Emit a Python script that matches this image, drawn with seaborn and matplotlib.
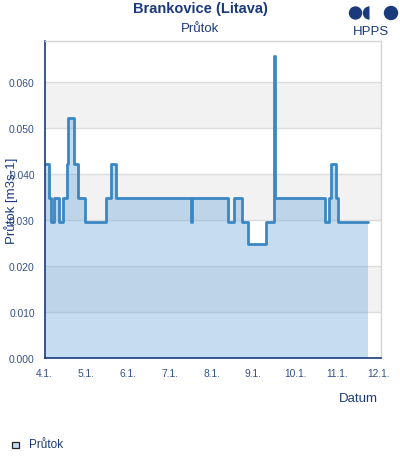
import matplotlib
matplotlib.use("Agg")
import matplotlib.pyplot as plt
import matplotlib.dates as mdates
from matplotlib.ticker import FuncFormatter
from matplotlib.patches import Circle, Wedge, Rectangle
import seaborn as sns
import pandas as pd

# ---- data (change points of discharge, step series) ----
times = [
    "2024-01-04 00:00", "2024-01-04 02:40", "2024-01-04 04:00", "2024-01-04 05:30",
    "2024-01-04 08:30", "2024-01-04 10:40", "2024-01-04 12:40", "2024-01-04 13:30",
    "2024-01-04 17:00", "2024-01-04 19:10", "2024-01-04 23:10", "2024-01-05 11:30",
    "2024-01-05 14:20", "2024-01-05 17:00", "2024-01-07 12:00", "2024-01-07 12:40",
    "2024-01-08 09:20", "2024-01-08 12:50", "2024-01-08 17:10", "2024-01-08 21:10",
    "2024-01-09 07:10", "2024-01-09 11:40", "2024-01-09 12:30", "2024-01-10 17:20",
    "2024-01-10 19:20", "2024-01-10 20:20", "2024-01-10 23:40", "2024-01-11 00:20",
    "2024-01-11 17:50",
]
flow = [
    0.0421, 0.0347, 0.0295, 0.0347,
    0.0295, 0.0347, 0.0421, 0.0520,
    0.0421, 0.0347, 0.0295, 0.0347,
    0.0421, 0.0347, 0.0295, 0.0347,
    0.0295, 0.0347, 0.0295, 0.0248,
    0.0295, 0.0655, 0.0347, 0.0295,
    0.0347, 0.0421, 0.0347, 0.0295,
    0.0295,
]
y_ticks = [0.000, 0.010, 0.020, 0.030, 0.040, 0.050, 0.060]
title = "Brankovice (Litava)"
subtitle = "Průtok"
y_label = "Průtok [m3s-1]"
x_label = "Datum"
legend_label = "Průtok"

df = pd.DataFrame({"time": pd.to_datetime(times), "flow": flow})

sns.set_theme(style="white")
plt.rcParams["font.family"] = ["Liberation Sans", "DejaVu Sans"]

NAVY = "#1b3a7c"
TICK = "#34508a"
LINE = "#3a87c4"

fig = plt.figure(figsize=(4.0, 4.6), dpi=100)
ax = fig.add_axes([44.5 / 400, 1 - 359 / 460, 336 / 400, 317 / 460])

# alternating horizontal bands
for lo in [0.010, 0.030, 0.050]:
    ax.axhspan(lo, lo + 0.010, color="#f2f2f2", zorder=0, lw=0)
for yt in y_ticks[1:]:
    ax.axhline(yt, color="#dcdcdc", lw=1.0, zorder=0.5)

ax.fill_between(df["time"], df["flow"], step="post", color=(107/255, 167/255, 219/255),
                alpha=0.385, lw=0, zorder=1)
sns.lineplot(data=df, x="time", y="flow", ax=ax, drawstyle="steps-post",
             color=LINE, lw=2.0, zorder=2, legend=False)

ax.set_xlim(pd.Timestamp("2024-01-04 00:00"), pd.Timestamp("2024-01-12 01:00"))
ax.set_ylim(0, 0.0688)
ax.set_yticks(y_ticks)
ax.yaxis.set_major_formatter(FuncFormatter(lambda v, p: f"{v:.3f}"))
ax.xaxis.set_major_locator(mdates.DayLocator())
ax.xaxis.set_major_formatter(FuncFormatter(
    lambda v, p: f"{mdates.num2date(v).day}.{mdates.num2date(v).month}."))
ax.tick_params(axis="both", length=0, labelsize=7.4, labelcolor=TICK)
ax.tick_params(axis="y", pad=7)
ax.tick_params(axis="x", pad=7)

for s in ["top", "right"]:
    ax.spines[s].set_color("#d4d4d4")
    ax.spines[s].set_linewidth(1.0)
for s in ["left", "bottom"]:
    ax.spines[s].set_color(NAVY)
    ax.spines[s].set_linewidth(1.2)

ax.set_xlabel("")
ax.set_ylabel(y_label, fontsize=9.5, color=NAVY)
ax.yaxis.set_label_coords(-0.078, 0.5)

fig.text(0.5, 1 - 9.5 / 460, title, ha="center", va="center", fontsize=10.5,
         fontweight="bold", color=NAVY)
fig.text(0.5, 1 - 29 / 460, subtitle, ha="center", va="center", fontsize=9.5, color=NAVY)
fig.text(378 / 400, 1 - 399 / 460, x_label, ha="right", va="center", fontsize=9.5, color=NAVY)

# legend
fig.patches.append(Rectangle((12 / 400, 1 - 449 / 460), 6.5 / 400, 6.5 / 460,
                             transform=fig.transFigure, facecolor="#c6ddf1",
                             edgecolor="#222222", lw=0.9))
fig.text(29 / 400, 1 - 445 / 460, legend_label, ha="left", va="center", fontsize=8.5, color=NAVY)

# logo
def fx(px):
    return px / 400
def fy(py):
    return 1 - py / 460
ax_logo = fig.add_axes([0, 0, 1, 1], facecolor="none")
ax_logo.set_xlim(0, 400)
ax_logo.set_ylim(460, 0)
ax_logo.axis("off")
ax_logo.set_aspect("auto")
ax_logo.add_patch(Circle((355.5, 14.0), 6.7, color=NAVY, lw=0))
ax_logo.add_patch(Wedge((369.5, 14.0), 6.7, 90, 270, color=NAVY, lw=0))
ax_logo.add_patch(Circle((391.0, 14.0), 7.2, color=NAVY, lw=0))
ax_logo.text(370.5, 32, "HPPS", ha="center", va="center", fontsize=9.5, color=NAVY)

fig.savefig("out.png", dpi=100)
